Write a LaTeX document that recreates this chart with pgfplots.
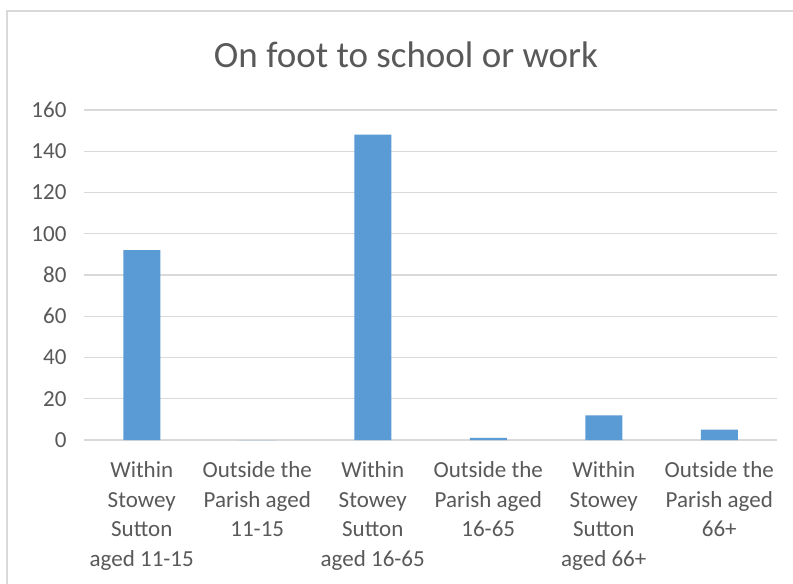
\documentclass[border=0pt]{standalone}
\usepackage{fontspec}
\setmainfont{Carlito}
\usepackage{pgfplots}
\pgfplotsset{compat=1.18}
\definecolor{barblue}{HTML}{5B9BD5}
\definecolor{txtgray}{HTML}{595959}
\definecolor{gridgray}{HTML}{D9D9D9}
\begin{document}
\begin{tikzpicture}
\path[use as bounding box] (0,0) rectangle (793pt,584pt);
\fill[white] (0,0) rectangle (793pt,584pt);
\draw[color=gridgray, line width=1.3pt] (7pt,0) -- (7pt,573pt) -- (793pt,573pt);
\node[text=txtgray, font=\fontsize{37}{43}\selectfont] at (406pt,529pt) {On foot to school or work};
\begin{axis}[
  at={(84pt,144pt)}, anchor=south west,
  scale only axis, width=693pt, height=330pt,
  xmin=-0.5, xmax=5.5, ymin=0, ymax=160,
  ytick={0,20,...,160},
  xtick={0,1,2,3,4,5},
  xticklabels={{Within\\Stowey\\Sutton\\aged 11-15},{Outside the\\Parish aged\\11-15},{Within\\Stowey\\Sutton\\aged 16-65},{Outside the\\Parish aged\\16-65},{Within\\Stowey\\Sutton\\aged 66+},{Outside the\\Parish aged\\66+}},
  xticklabel style={align=center, text=txtgray, font=\fontsize{23}{29.5}\selectfont, yshift=-18pt},
  yticklabel style={text=txtgray, font=\fontsize{23}{28}\selectfont, xshift=-14pt},
  /pgf/number format/assume math mode=true,
  ymajorgrids, grid style={gridgray, line width=1.3pt},
  axis line style={draw=none},
  major tick length=0pt,
  ybar, bar width=37pt,
]
\addplot[fill=barblue, draw=none] coordinates {(0,92) (1,0) (2,148) (3,1) (4,12) (5,5)};
\end{axis}
\end{tikzpicture}
\end{document}
